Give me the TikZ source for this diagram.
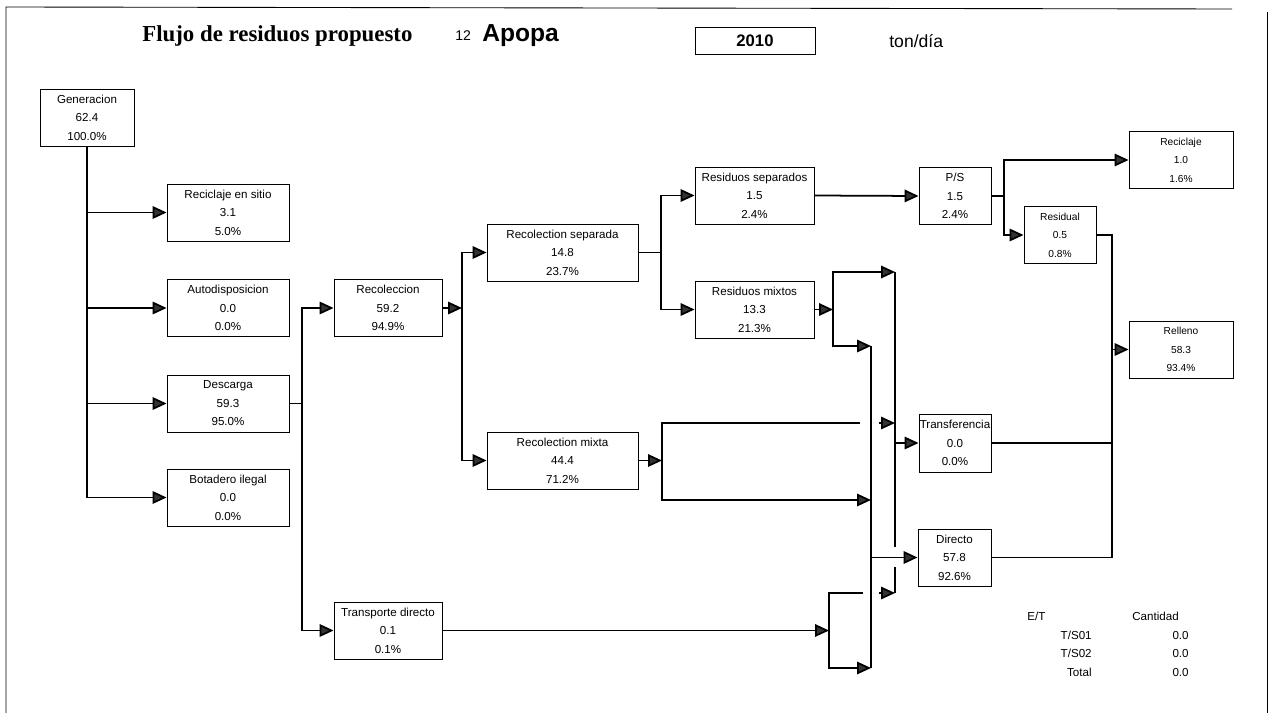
\documentclass[tikz,border=0pt]{standalone}
\usepackage{fontspec}
\setmainfont{Liberation Sans}
\newfontfamily\titlefont{Liberation Serif}
\usetikzlibrary{positioning, arrows.meta, calc}

\tikzset{
  box/.style={draw, rectangle, line width=0.5pt, inner sep=0pt, align=center, minimum height=1.14cm, font=\fontsize{6.6}{10.5}\selectfont},
  rbox/.style={box, font=\fontsize{5.8}{10.5}\selectfont},
  flow/.style={->, line width=1pt},
  link/.style={line width=1pt},
  tab/.style={inner sep=0pt, font=\fontsize{6.6}{8}\selectfont},
}

\begin{document}
\begin{tikzpicture}[x=0.02cm, y=-0.02cm, >={Triangle[length=0.28cm,width=0.25cm,fill=black!80]}]
  \useasboundingbox (0,0) rectangle (1276,713);
  \draw[line width=0.5pt] (6,713) -- (6,7) -- (1232,9);
  \draw[line width=0.5pt] (1267,12) -- (1267,713);

  % cabecera
  \node[font=\titlefont\bfseries\fontsize{13}{15}\selectfont, anchor=base west, inner sep=0pt] (title) at (142,42) {Flujo de residuos propuesto};
  \node[font=\fontsize{8}{9}\selectfont, anchor=base west, inner sep=0pt] (num) at (455,41) {12};
  \node[font=\bfseries\fontsize{14}{16}\selectfont, anchor=base west, inner sep=0pt] (city) at (482,42) {Apopa};
  \node[draw, line width=0.5pt, minimum width=2.4cm, minimum height=0.54cm, inner sep=0pt, font=\bfseries\fontsize{9.5}{11}\selectfont] (year) at (755,40.5) {2010};
  \node[font=\fontsize{10}{12}\selectfont, anchor=base west, inner sep=0pt] (unit) at (889,48) {ton/día};

  % cajas
  \node[box, minimum width=1.88cm] (gen) at (87,117.5) {Generacion\\62.4\\100.0\%};
  \node[box, minimum width=2.44cm] (rsitio) at (228,212.5) {Reciclaje en sitio\\3.1\\5.0\%};
  \node[box, minimum width=2.44cm] (autod) at (228,308) {Autodisposicion\\0.0\\0.0\%};
  \node[box, minimum width=2.44cm] (desc) at (228,403.5) {Descarga\\59.3\\95.0\%};
  \node[box, minimum width=2.44cm] (bota) at (228,497.5) {Botadero ilegal\\0.0\\0.0\%};
  \node[box, minimum width=2.16cm] (recol) at (388,308) {Recoleccion\\59.2\\94.9\%};
  \node[box, minimum width=2.16cm] (tdir) at (388,630.5) {Transporte directo\\0.1\\0.1\%};
  \node[box, minimum width=3.02cm] (rsep) at (562.5,252.5) {Recolection separada\\14.8\\23.7\%};
  \node[box, minimum width=3.02cm] (rmix) at (562.5,460.5) {Recolection mixta\\44.4\\71.2\%};
  \node[box, minimum width=2.38cm] (ressep) at (754.5,195.5) {Residuos separados\\1.5\\2.4\%};
  \node[box, minimum width=2.38cm] (resmix) at (754.5,309.5) {Residuos mixtos\\13.3\\21.3\%};
  \node[box, minimum width=1.44cm] (ps) at (955,196) {P/S\\1.5\\2.4\%};
  \node[rbox, minimum width=2.08cm] (recic) at (1181,160) {Reciclaje\\1.0\\1.6\%};
  \node[rbox, minimum width=1.44cm] (resid) at (1060,235) {Residual\\0.5\\0.8\%};
  \node[rbox, minimum width=2.08cm] (rell) at (1181,349.5) {Relleno\\58.3\\93.4\%};
  \node[box, minimum width=1.44cm, minimum height=1.16cm] (transf) at (955,443) {Transferencia\\0.0\\0.0\%};
  \node[box, minimum width=1.46cm] (direc) at (954.5,557.5) {Directo\\57.8\\92.6\%};

  % puntos de union
  \coordinate (jdesc) at (302,403.5);
  \coordinate (jrecol) at (462,308);
  \coordinate (jrsep) at (661,252.5);
  \coordinate (jps) at (1004,196);
  \coordinate (jres) at (1112,235);
  \coordinate (jmix) at (833,309.5);
  \coordinate (jrmix) at (662,460.5);
  \coordinate (jtdir) at (829,630.5);
  \coordinate (colA) at (871,346);
  \coordinate (colAmix) at (871,500);
  \coordinate (colAend) at (871,668);
  \coordinate (colB) at (895,272);
  \coordinate (gapB1) at (895,547);
  \coordinate (gapB2) at (895,567);
  \coordinate (colBend) at (895,593);
  \coordinate (hopM) at (860,423);
  \coordinate (hopMb) at (879,423);
  \coordinate (hopT) at (863,593);
  \coordinate (hopTb) at (879,593);

  \draw[link] (gen.south) -- (gen.south |- bota.west);
  \foreach \n in {rsitio, autod, desc, bota}
    \draw[flow] (gen.south |- \n.west) -- (\n.west);

  \draw[link] (desc.east) -- (jdesc);
  \draw[flow] (jdesc) |- (recol.west);
  \draw[flow] (jdesc) |- (tdir.west);

  \draw[flow] (recol.east) -- (jrecol);
  \draw[flow] (jrecol) |- (rsep.west);
  \draw[flow] (jrecol) |- (rmix.west);

  \draw[link] (rsep.east) -- (jrsep);
  \draw[flow] (jrsep) |- (ressep.west);
  \draw[flow] (jrsep) |- (resmix.west);

  \draw[flow] (ressep.east) -- (ps.west);
  \draw[link] (ps.east) -- (jps);
  \draw[flow] (jps) |- (recic.west);
  \draw[flow] (jps) |- (resid.west);

  \draw[link] (resid.east) -- (jres) |- (direc.east);
  \draw[link] (transf.east) -- (transf.east -| jres);
  \draw[flow] (jres |- rell.west) -- (rell.west);

  \draw[flow] (resmix.east) -- (jmix);
  \draw[flow] (jmix) |- (colB);
  \draw[flow] (jmix) |- (colA);

  \draw[flow] (rmix.east) -- (jrmix);
  \draw[link] (jrmix) |- (hopM);
  \draw[flow] (hopMb) -- (hopMb -| colB);
  \draw[flow] (jrmix) |- (colAmix);

  \draw[flow] (tdir.east) -- (jtdir);
  \draw[link] (jtdir) |- (hopT);
  \draw[flow] (hopTb) -- (colBend);
  \draw[flow] (jtdir) |- (colAend);

  \draw[link] (colA) -- (colAend);
  \draw[link] (colB) -- (gapB1) (gapB2) -- (colBend);
  \draw[flow] (colB |- transf.west) -- (transf.west);
  \draw[flow] (colA |- direc.west) -- (direc.west);

  % tabla E/T
  \node[tab, anchor=base west] (et) at (1027,620) {E/T};
  \node[tab, anchor=base west] (cant) at (1132,620) {Cantidad};
  \foreach \lab/\yy [count=\i] in {{T/S01}/639, {T/S02}/657, Total/676} {
    \node[tab, anchor=base east] (ts\i) at (1092,\yy) {\lab};
    \node[tab, anchor=base east] (q\i) at (1189,\yy) {0.0};
  }
\end{tikzpicture}
\end{document}
